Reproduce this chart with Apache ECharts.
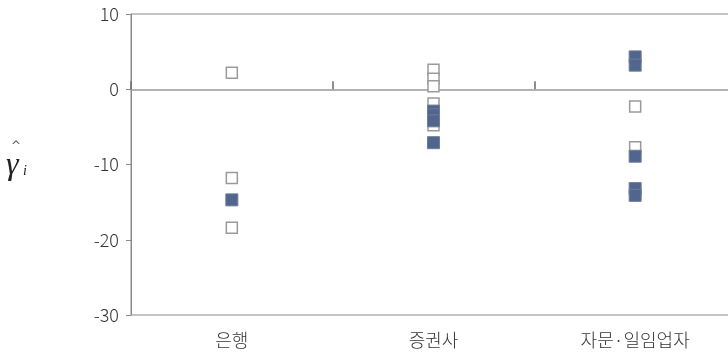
<!DOCTYPE html>
<html>
<head>
<meta charset="utf-8">
<script src="https://cdn.jsdelivr.net/npm/echarts@6/dist/echarts.min.js"></script>
<style>
  html, body { margin: 0; padding: 0; background: #fff; }
  #chart { width: 728px; height: 360px; }
</style>
</head>
<body>
<div id="chart"></div>
<script>
// categories along x
const categories = ['은행', '증권사', '자문·일임업자'];

// hollow squares (not significant) per category
const hollowBank = [2.2, -11.8, -18.4];
const hollowSec  = [2.6, 1.4, 0.4, -1.9, -3.6, -4.8];
const hollowAdv  = [-2.3, -7.7];

// filled squares (significant) per category
const filledBank = [-14.7];
const filledSec  = [-2.9, -3.4, -4.2, -7.1];
const filledAdv  = [4.3, 3.2, -8.9, -13.2, -14.1];

const yTicks = { min: -30, max: 10, interval: 10 };

const toPairs = (lists) => lists.flatMap((vals, i) => vals.map(v => [categories[i], v]));
const hollowData = toPairs([hollowBank, hollowSec, hollowAdv]);
const filledData = toPairs([filledBank, filledSec, filledAdv]);

const FONT = '"Noto Sans CJK KR", "Noto Sans", sans-serif';
const chart = echarts.init(document.getElementById('chart'), null, { renderer: 'canvas' });

chart.setOption({
  animation: false,
  grid: {
    left: 131, width: 605, top: 14, bottom: 45,
    outerBoundsMode: 'none', containLabel: false,
    show: true, borderColor: '#8a8a8a', borderWidth: 1
  },
  xAxis: [
    {
      type: 'category',
      data: categories,
      axisLine: { onZero: true, lineStyle: { color: '#999', width: 1.5 } },
      axisTick: { show: true, inside: true, length: 8, lineStyle: { color: '#707070', width: 1.6 } },
      axisLabel: { show: false }
    },
    {
      type: 'category',
      data: categories,
      position: 'bottom',
      axisLine: { show: false },
      axisTick: { show: false },
      axisLabel: { fontFamily: FONT, fontSize: 18, fontWeight: 300, color: '#333', margin: 16 }
    }
  ],
  yAxis: {
    type: 'value',
    min: yTicks.min, max: yTicks.max, interval: yTicks.interval,
    splitLine: { show: false },
    axisLine: { show: true, onZero: false, lineStyle: { color: '#8a8a8a' } },
    axisTick: { show: true, length: 5, lineStyle: { color: '#8a8a8a' } },
    axisLabel: { fontFamily: FONT, fontSize: 18, fontWeight: 300, color: '#333', margin: 12 }
  },
  series: [
    {
      type: 'scatter',
      symbol: 'rect',
      symbolSize: 11,
      data: hollowData,
      itemStyle: { color: '#fff', borderColor: '#9a9a9a', borderWidth: 1.5, opacity: 1 }
    },
    {
      type: 'scatter',
      symbol: 'rect',
      symbolSize: 12,
      data: filledData,
      itemStyle: { color: '#51668f', borderColor: '#6f7d98', borderWidth: 1, opacity: 1 }
    }
  ],
  graphic: [
    { type: 'text', left: 6, top: 150, style: { text: 'γ', font: 'italic 32px "Liberation Serif", serif', fill: '#222' } },
    { type: 'text', left: 11, top: 141, style: { text: '^', font: '12px "DejaVu Sans", sans-serif', fill: '#555' } },
    { type: 'text', left: 23, top: 164, style: { text: 'i', font: 'italic 14px "Liberation Serif", serif', fill: '#222' } }
  ]
});
</script>
</body>
</html>
